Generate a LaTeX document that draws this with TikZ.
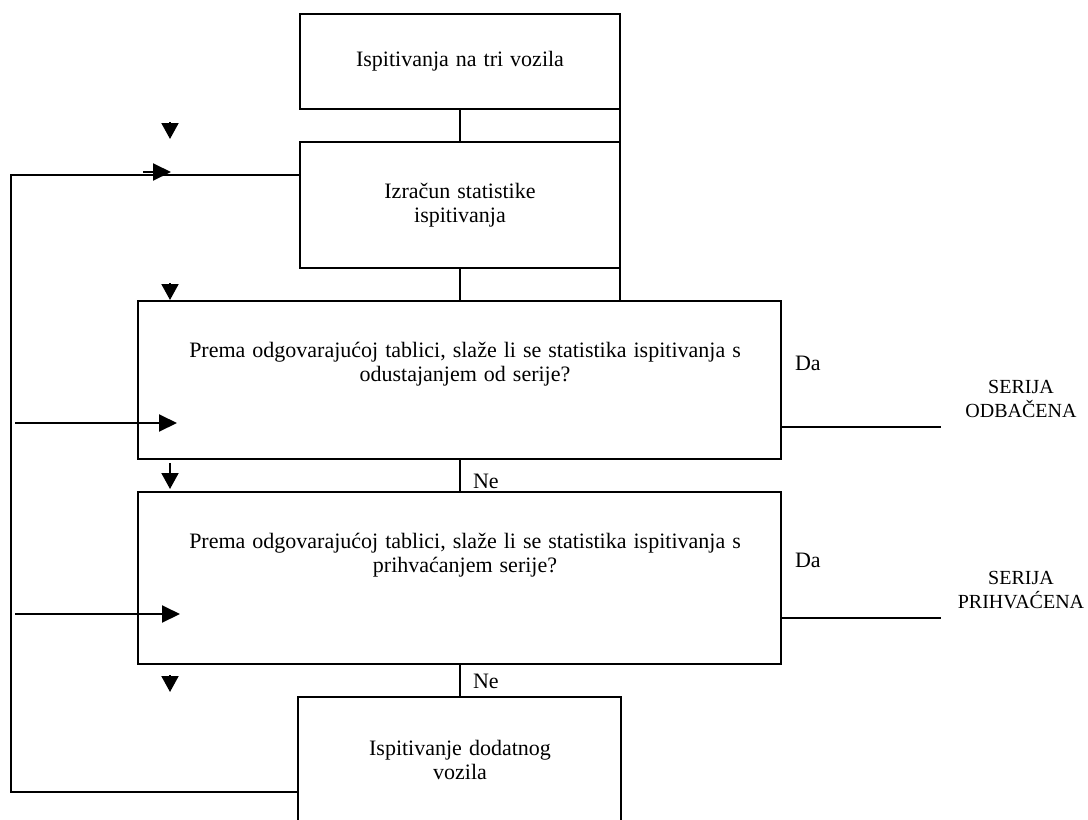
\documentclass[tikz,border=0pt]{standalone}
\usepackage{fontspec}
\setmainfont{Liberation Serif}
\usetikzlibrary{arrows.meta}
\newcommand\dfont{\fontsize{22}{24}\selectfont\spaceskip=7pt\relax}
\newcommand\sfontx{\fontsize{20}{24}\selectfont}
\tikzset{
  box/.style={draw, line width=2pt, inner sep=0pt, outer sep=0pt, anchor=north west, align=center, font=\dfont},
  txt/.style={inner sep=0pt, outer sep=0pt, align=center, font=\dfont},
  conn/.style={line width=2pt},
  tipd/.style={line width=2pt, -{Triangle[length=16pt,width=17pt]}},
  tipr/.style={line width=2pt, -{Triangle[length=18pt,width=17pt]}},
}
\begin{document}
\begin{tikzpicture}[x=1pt,y=-1pt]
\useasboundingbox (0,0) rectangle (1088,820);
\clip (0,0) rectangle (1088,820);
% boxes
\node[box, minimum width=320pt, minimum height=95pt] (b1) at (300,14) {Ispitivanja na tri vozila};
\node[box, minimum width=320pt, minimum height=126pt] (b2) at (300,142) {Izračun statistike\\ispitivanja};
\node[box, minimum width=643pt, minimum height=158pt] (b3) at (138,301) {};
\node[box, minimum width=643pt, minimum height=172pt] (b4) at (138,492) {};
\node[box, minimum width=323pt, minimum height=150pt] (b5) at (298,697) {};
% texts in boxes
\node[txt] (t3) at (465,364) {Prema odgovarajućoj tablici, slaže li se statistika ispitivanja s\\odustajanjem od serije?};
\node[txt] (t4) at (465,555) {Prema odgovarajućoj tablici, slaže li se statistika ispitivanja s\\prihvaćanjem serije?};
\node[txt] (t5) at (460,760) {Ispitivanje dodatnog\\vozila};
% main connectors
\draw[conn] (b1.south) -- (b2.north);
\draw[conn] (b1.south east) -- (b2.north east);
\draw[conn] (b2.south) -- (b2.south |- b3.north);
\draw[conn] (b2.south east) -- (b2.south east |- b3.north);
\draw[conn] (b3.south) -- (b4.north);
\draw[conn] (b4.south) -- (b5.north);
\node[txt, anchor=base west] (ne1) at (473,488) {Ne};
\node[txt, anchor=base west] (ne2) at (473,688) {Ne};
% outputs
\coordinate (o1) at (941,427);
\coordinate (o2) at (941,618);
\draw[conn] (b3.east |- o1) -- (o1);
\draw[conn] (b4.east |- o2) -- (o2);
\node[txt, anchor=base west] (da1) at (795,370) {Da};
\node[txt, anchor=base west] (da2) at (795,567) {Da};
\node[txt, font=\sfontx] (s1) at (1021,399) {SERIJA\\ODBAČENA};
\node[txt, font=\sfontx] (s2) at (1021,590) {SERIJA\\PRIHVAĆENA};
% feedback loop
\coordinate (fb1) at (11,792);
\coordinate (fb2) at (11,175);
\draw[conn] (fb1 -| b5.west) -- (fb1) -- (fb2) -- (fb2 -| b2.west);
% arrowheads
\coordinate (a1s) at (170,122); \coordinate (a1e) at (170,139);
\coordinate (a2s) at (170,283); \coordinate (a2e) at (170,300);
\coordinate (a3s) at (170,463); \coordinate (a3e) at (170,489);
\coordinate (a4s) at (170,675); \coordinate (a4e) at (170,692);
\draw[tipd] (a1s) -- (a1e);
\draw[tipd] (a2s) -- (a2e);
\draw[tipd] (a3s) -- (a3e);
\draw[tipd] (a4s) -- (a4e);
\coordinate (r1s) at (143,172); \coordinate (r1e) at (171,172);
\coordinate (r2s) at (15,423); \coordinate (r2e) at (177,423);
\coordinate (r3s) at (15,614); \coordinate (r3e) at (180,614);
\draw[tipr] (r1s) -- (r1e);
\draw[tipr] (r2s) -- (r2e);
\draw[tipr] (r3s) -- (r3e);
\end{tikzpicture}
\end{document}
